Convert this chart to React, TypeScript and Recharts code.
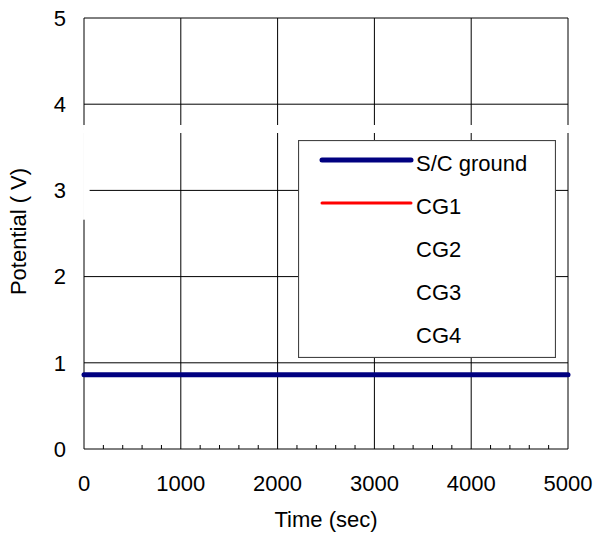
import { LineChart, Line, XAxis, YAxis, CartesianGrid, Legend, ReferenceArea, Label } from "recharts";

const time = [0, 1000, 2000, 3000, 4000, 5000];
const scGround = [0.86, 0.86, 0.86, 0.86, 0.86, 0.86];
const cg1 = [0.86, 0.86, 0.86, 0.86, 0.86, 0.86];

const xMajorTicks = [0, 1000, 2000, 3000, 4000, 5000];
const xAllTicks = [
  0, 200, 400, 600, 800, 1000, 1200, 1400, 1600, 1800, 2000, 2200, 2400, 2600, 2800,
  3000, 3200, 3400, 3600, 3800, 4000, 4200, 4400, 4600, 4800, 5000,
];
const yTicks = [0, 1, 2, 3, 4, 5];

const legendNames = ["S/C ground", "CG1", "CG2", "CG3", "CG4"];
const legendColors = ["#000080", "#ff0000", "", "", ""];
const legendWidths = [5, 3, 0, 0, 0];

const data = time.map((t, i) => ({ time: t, sc: scGround[i], cg1: cg1[i] }));

const FONT = '"Liberation Sans", Arial, sans-serif';

function TimeTick(props: any) {
  const { x, y, payload } = props;
  const major = xMajorTicks.includes(payload.value);
  return (
    <g>
      {!major && <line x1={x} x2={x} y1={y} y2={y - 4} stroke="#000" />}
      {major && (
        <text x={x} y={y + 42} textAnchor="middle" fontSize={22} fontFamily={FONT} fill="#000">
          {payload.value}
        </text>
      )}
    </g>
  );
}

function LegendBox() {
  return (
    <svg width={258} height={218} style={{ display: "block" }}>
      <rect x={0.5} y={0.5} width={257} height={217} fill="#fff" stroke="#444" strokeWidth={1.2} />
      {legendNames.map((name, i) => {
        const cy = 22.5 + i * 43;
        return (
          <g key={name}>
            {legendColors[i] && (
              <line
                x1={24}
                x2={113}
                y1={cy - 2.5}
                y2={cy - 2.5}
                stroke={legendColors[i]}
                strokeWidth={legendWidths[i]}
                strokeLinecap="round"
              />
            )}
            <text x={118} y={cy + 8} fontSize={22} fontFamily={FONT} fill="#000">
              {name}
            </text>
          </g>
        );
      })}
    </svg>
  );
}

export default function App() {
  return (
    <div style={{ position: "absolute", left: 0, top: 0, background: "#fff" }}>
      <LineChart width={594} height={536} data={data} margin={{ top: 18, right: 26, left: 0, bottom: 0 }}>
        <CartesianGrid
          stroke="#000"
          strokeWidth={1}
          verticalValues={xMajorTicks}
          horizontalValues={yTicks}
        />
        <XAxis
          type="number"
          dataKey="time"
          domain={[0, 5000]}
          ticks={xAllTicks}
          interval={0}
          tick={(p: any) => <TimeTick {...p} />}
          tickLine={false}
          axisLine={false}
          tickSize={0}
          tickMargin={0}
          height={87}
        >
          <Label
            content={(p: any) => {
              const vb = p.viewBox;
              return (
                <text x={vb.x + vb.width / 2} y={vb.y + 78} textAnchor="middle" fontSize={22} fontFamily={FONT} fill="#000">
                  Time (sec)
                </text>
              );
            }}
          />
        </XAxis>
        <YAxis
          type="number"
          domain={[0, 5]}
          ticks={yTicks}
          interval={0}
          width={84}
          tickLine={false}
          axisLine={false}
          tickSize={0}
          tickMargin={18}
          tick={{ fontSize: 22, fontFamily: FONT, fill: "#000" }}
        >
          <Label
            content={(p: any) => {
              const vb = p.viewBox;
              const cx = 18.5;
              const cy = vb.y + vb.height / 2 - 2;
              return (
                <text
                  x={cx}
                  y={cy}
                  transform={`rotate(-90 ${cx} ${cy})`}
                  textAnchor="middle"
                  dominantBaseline="central"
                  fontSize={22}
                  fontFamily={FONT}
                  fill="#000"
                >
                  Potential ( V)
                </text>
              );
            }}
          />
        </YAxis>
        <ReferenceArea x1={-10} x2={5010} y1={3.666} y2={3.759} fill="#fff" fillOpacity={1} stroke="none" ifOverflow="visible" />
        <ReferenceArea x1={-10} x2={58} y1={2.66} y2={3.7} fill="#fff" fillOpacity={1} stroke="none" ifOverflow="visible" />
        <Line dataKey="cg1" stroke="#ff0000" strokeWidth={3} dot={false} isAnimationActive={false} />
        <Line dataKey="sc" stroke="#000080" strokeWidth={5} strokeLinecap="round" dot={false} isAnimationActive={false} />
        <Legend
          layout="vertical"
          align="center"
          verticalAlign="middle"
          content={() => <LegendBox />}
          wrapperStyle={{ position: "absolute", left: 298, top: 140, width: 258, height: 218 }}
        />
      </LineChart>
    </div>
  );
}
